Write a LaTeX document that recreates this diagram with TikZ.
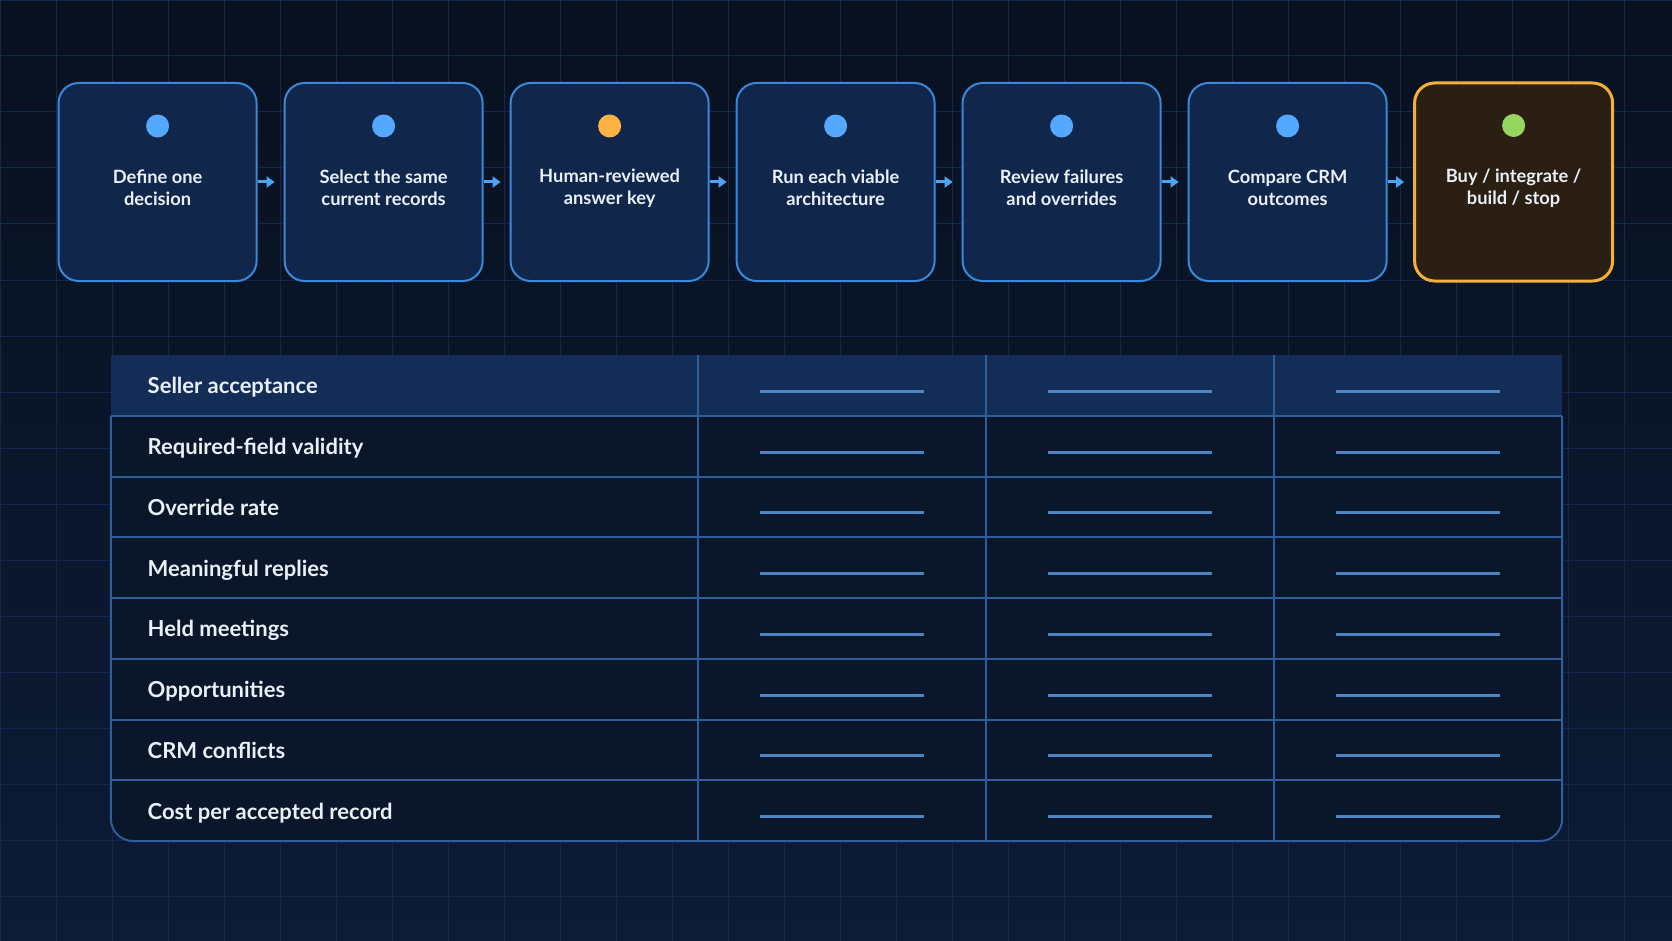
\documentclass[tikz,border=0pt]{standalone}
\usepackage{fontspec}
\setmainfont{Lato}
\usetikzlibrary{arrows.meta}
\definecolor{bgtop}{HTML}{08111F}
\definecolor{bgbot}{HTML}{0C1B36}
\definecolor{gridc}{HTML}{13284A}
\definecolor{boxfill}{HTML}{10264A}
\definecolor{boxline}{HTML}{3A88DC}
\definecolor{finfill}{HTML}{2B1E13}
\definecolor{finline}{HTML}{F6AE3A}
\definecolor{dotblue}{HTML}{55A8FF}
\definecolor{dotorange}{HTML}{FDB242}
\definecolor{dotgreen}{HTML}{94D65E}
\definecolor{arrowc}{HTML}{4FA3F5}
\definecolor{hdrfill}{HTML}{132D56}
\definecolor{rowfill}{HTML}{0A1629}
\definecolor{tabline}{HTML}{2E5E9C}
\definecolor{dashc}{HTML}{4C84C4}
\definecolor{txt}{HTML}{EAF0F8}
\tikzset{
  stepbox/.style={draw=boxline, fill=boxfill, line width=2pt, rounded corners=20pt,
    minimum width=198pt, minimum height=198pt, inner sep=0pt},
  finalbox/.style={stepbox, draw=finline, fill=finfill, line width=3pt},
  dotnode/.style={circle, inner sep=0pt, minimum size=23pt},
  boxlabel/.style={text=txt, align=center, font=\fontsize{18.3}{22}\selectfont\bfseries},
  rowlabel/.style={text=txt, anchor=base west, inner sep=0pt, font=\fontsize{22}{26}\selectfont\bfseries},
  flowarrow/.style={draw=arrowc, line width=3pt, -{Triangle[length=8pt,width=11pt]}},
  tabrule/.style={draw=tabline, line width=2pt},
  cellbar/.style={draw=dashc, line width=3pt}
}
\begin{document}
\begin{tikzpicture}[x=1pt,y=-1pt]
\useasboundingbox (0,0) rectangle (1672,941);
\shade[top color=bgtop, bottom color=bgbot] (0,0) rectangle (1672,941);
\draw[gridc, line width=1pt] (0,0) grid[step=56pt] (1672,941);

% flow boxes
\foreach \i/\c/\t in {1/dotblue/{Define one\\decision},
                       2/dotblue/{Select the same\\current records},
                       3/dotorange/{Human-reviewed\\answer key},
                       4/dotblue/{Run each viable\\architecture},
                       5/dotblue/{Review failures\\and overrides},
                       6/dotblue/{Compare CRM\\outcomes}} {
  \node[stepbox] (b\i) at ({157.6+226*(\i-1)},182) {};
  \node[dotnode, fill=\c] (d\i) at ([yshift=-44pt]b\i.north) {};
  \node[boxlabel] (t\i) at ([yshift=-6pt]b\i.center) {\t};
}
\node[finalbox] (b7) at ({157.6+226*6},182) {};
\node[dotnode, fill=dotgreen] (d7) at ([yshift=-44pt]b7.north) {};
\node[boxlabel] (t7) at ([yshift=-6pt]b7.center) {Buy / integrate /\\build / stop};

\foreach \i [evaluate=\i as \j using int(\i+1)] in {1,...,6} {
  \draw[flowarrow] (b\i.east) -- ([xshift=-9pt]b\j.west);
}

% table
\def\Xa{110.9}\def\Xb{698.4}\def\Xc{986.3}\def\Xd{1274.2}\def\Xe{1562.1}
\fill[rowfill, rounded corners=22pt] (\Xa,355) rectangle (\Xe,841);
\fill[hdrfill] (\Xa,355) rectangle (\Xe,415.75);
\draw[tabrule, rounded corners=22pt] (\Xa,415.75) -- (\Xa,841) -- (\Xe,841) -- (\Xe,415.75);
\foreach \k in {1,...,7} {
  \draw[tabrule] (\Xa,{355+60.75*\k}) -- (\Xe,{355+60.75*\k});
}
\foreach \x in {\Xb,\Xc,\Xd} {
  \draw[tabrule] (\x,355) -- (\x,841);
}
\foreach \k/\t in {1/Seller acceptance, 2/Required-field validity, 3/Override rate,
                   4/Meaningful replies, 5/Held meetings, 6/Opportunities,
                   7/CRM conflicts, 8/Cost per accepted record} {
  \node[rowlabel] (r\k) at (147.5,{355+60.75*(\k-0.5)+8.5}) {\t};
  \foreach \cx in {842.35,1130.25,1418.15} {
    \draw[cellbar] ({\cx-82},{355+60.75*(\k-0.5)+6}) -- ({\cx+82},{355+60.75*(\k-0.5)+6});
  }
}
\end{tikzpicture}
\end{document}
